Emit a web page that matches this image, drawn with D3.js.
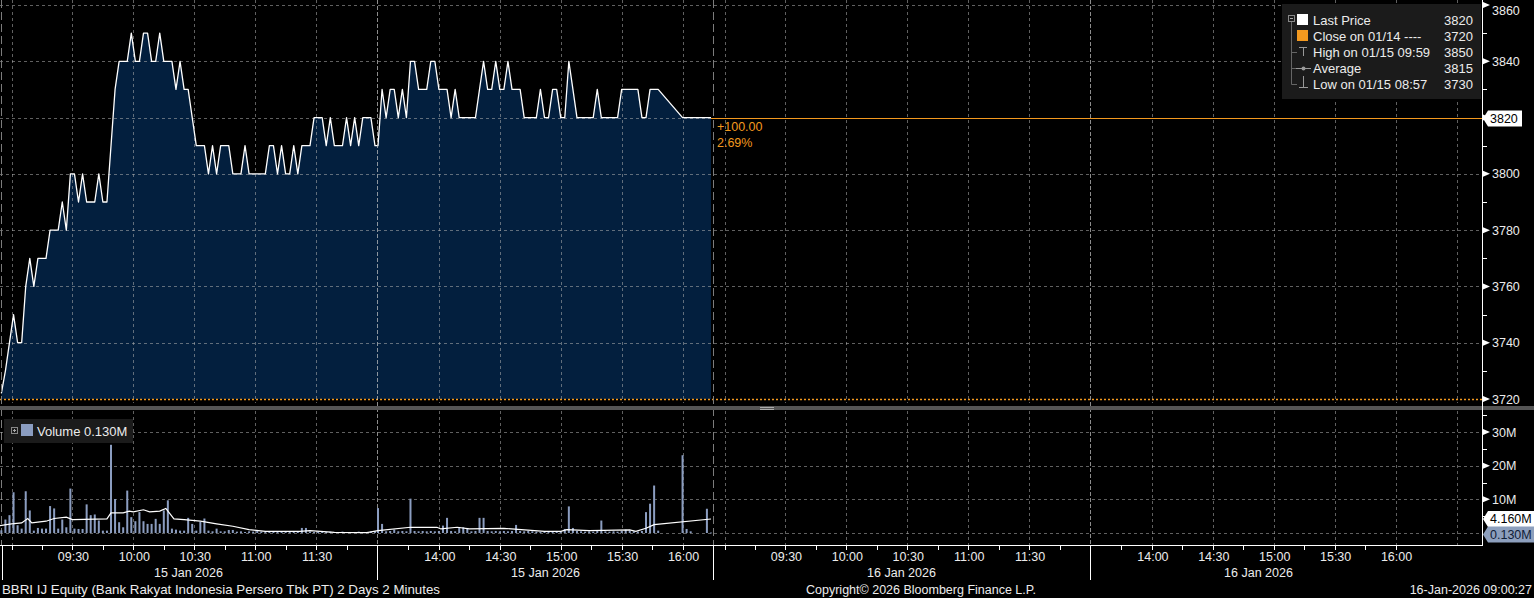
<!DOCTYPE html>
<html><head><meta charset="utf-8">
<script src="https://cdn.jsdelivr.net/npm/d3@7"></script>
<style>
html,body{margin:0;padding:0;background:#000;overflow:hidden;}
svg{display:block;font-family:"Liberation Sans",Arial,Helvetica,sans-serif;}
</style></head><body>
<svg id="chart" width="1534" height="598"></svg>
<script>
// ---------------- DATA ----------------
const day1 = "2026-01-15", day2 = "2026-01-16";
const stepMinutes = 2;
const session1Start = "08:55";
const session1Price = [
 3722,3730,3740,3750,3740,3740,3760,3770,3760,3770,
 3770,3770,3780,3780,3780,3790,3780,3800,3800,3790,
 3800,3790,3790,3790,3800,3790,3790,3810,3830,3840,
 3840,3840,3850,3840,3840,3850,3850,3840,3840,3850,
 3840,3840,3840,3830,3840,3830,3830,3820,3810,3810,
 3810,3800,3810,3800,3810,3810,3810,3800,3800,3800,
 3810,3800,3800,3800,3800,3800,3810,3810,3800,3810,
 3800,3800,3810,3800,3810,3810,3810,3820,3820,3820,
 3810,3820,3810,3810,3810,3820,3810,3820,3810,3820,
 3820,3820,3810];
const session1Volume = [ // millions
 0.8,4.0,5.3,12.1,2.3,1.3,12.4,6.7,0.7,1.5,
 1.3,1.3,8.0,7.3,1.3,4.0,1.7,13.2,1.3,1.2,
 1.2,8.5,5.3,5.5,3.7,0.7,0.7,26.2,10.1,3.2,
 1.7,12.6,4.7,3.5,6.2,3.5,2.7,2.7,4.2,2.7,
 6.7,9.7,1.3,1.0,0.7,0.7,4.5,2.7,0.7,3.3,
 4.3,0.7,0.5,1.3,0.5,0.5,0.9,0.9,0.4,0.5,
 0.3,0.5,0.4,0.6,0.4,0.3,0.5,0.4,0.3,0.5,
 0.4,0.3,0.4,0.5,1.5,1.5,0.4,0.3,0.4,0.3,
 0.3,0.4,0.3,0.3,0.4,0.3,0.3,0.3,0.4,0.3,
 0.3,0.4,0.5];
const session2Start = "13:30";
const session2Price = [
 3810,3830,3820,3830,3830,3820,3830,3820,3840,3840,
 3830,3830,3830,3840,3840,3830,3830,3830,3820,3830,
 3820,3820,3820,3820,3820,3830,3840,3830,3830,3840,
 3830,3830,3840,3830,3830,3830,3820,3820,3820,3820,
 3830,3820,3820,3830,3830,3820,3820,3840,3830,3820,
 3820,3820,3820,3820,3830,3820,3820,3820,3820,3820,
 3830,3830,3830,3830,3830,3820,3820,3830,3830,3830,
 null,null,null,null,null,3820,3820,3820,3820,3820,
 3820,3820,3820];
const session2Volume = [
 7.4,2.7,0.5,0.6,1.0,0.5,0.6,0.5,10.2,0.6,
 0.5,0.6,0.5,0.6,0.5,0.6,2.2,4.5,0.6,0.5,
 1.7,1.7,1.5,0.5,0.6,4.5,4.5,0.6,0.5,0.6,
 0.5,0.6,0.5,0.6,2.4,0.6,0.5,0.6,0.5,0.4,
 0.3,0.3,0.3,0.4,0.3,0.5,1.2,7.9,1.5,0.6,
 0.5,0.4,0.5,0.4,0.6,3.7,0.5,0.4,0.5,0.4,
 0.6,1.0,0.7,0.5,0.4,0.6,6.2,8.7,14.1,0.7,
 null,null,null,null,null,23.1,1.2,0.5,0,0,
 0,7.2,0.13];
const volAvgTimes = ["08:54:20","09:00","09:05","09:08","09:10","09:17","09:21","09:27","09:30","09:47","09:49","09:55","09:58","10:00","10:05","10:08","10:13","10:16","10:20","10:25","10:33","10:41","10:49","10:57","11:05","11:22","11:27","11:39","11:55",
 "13:30","13:46","13:59","14:01","14:09","14:15","14:32","14:52","15:00","15:03","15:14","15:34","15:37","15:42","15:46","16:14"];
const volAvgValues = [2.2,2.7,3.0,4.3,3.0,3.5,4.3,4.7,4.0,4.2,6.0,6.0,6.5,6.3,6.9,6.3,6.5,7.3,4.2,4.0,3.5,2.7,2.0,1.0,0.5,0.5,0.7,0.2,0.1,
 0.7,1.7,1.7,1.2,1.7,1.2,1.4,0.5,0.5,1.0,0.7,0.9,0.5,1.4,2.5,4.16];
const priceTicks = [3720,3740,3760,3780,3800,3820,3840,3860];
const priceMinorTicks = [3730,3750,3770,3790,3810,3830,3850];
const volumeTicks = [10,20,30];
const volumeMinorTicks = [5,15,25,35];
const gridTimes = ["09:00","09:30","10:00","10:30","11:00","11:30","14:00","14:30","15:00","15:30","16:00"];
const timeLabels = ["09:30","10:00","10:30","11:00","11:30","14:00","14:30","15:00","15:30","16:00"];
const dateLabels = {"2026-01-15":"15 Jan 2026","2026-01-16":"16 Jan 2026"};
const prevClose = 3720, lastPrice = 3820;
const changeLabels = ["+100.00","2.69%"];
const lastVolume = "0.130M", lastVolAvg = "4.160M";
const legendLabels = ["Last Price","Close on 01/14 ----","High on 01/15 09:59","Average","Low on 01/15 08:57"];
const legendValues = ["3820","3720","3850","3815","3730"];
const footerLeft = "BBRI IJ Equity (Bank Rakyat Indonesia Persero Tbk PT) 2 Days 2 Minutes";
const footerMid = "Copyright\u00a9 2026 Bloomberg Finance L.P.";
const footerRight = "16-Jan-2026 09:00:27";

// ---------------- HELPERS ----------------
function at(day, hm){ const [Y,M,D]=day.split("-").map(Number); const p=hm.split(":").map(Number); return new Date(Y,M-1,D,p[0],p[1],p[2]||0); }
function series(day,start,vals){ const t0=at(day,start); return vals.map((v,i)=>({t:d3.timeMinute.offset(t0,i*stepMinutes),v})); }

const svg = d3.select("#chart");
const W=1534, H=598, axisX=1482;
const ORANGE="#f3991f", TXT="#ececec", GRID="rgba(175,175,175,0.55)";

const x = d3.scaleTime()
 .domain([at(day1,"08:54:20"),at(day1,"12:00"),at(day1,"13:30"),at(day1,"16:15"),
          at(day2,"08:54:20"),at(day2,"12:00"),at(day2,"13:30"),at(day2,"16:15"),at(day2,"16:42:30")])
 .range([0,377,378,713,713,1090,1091,1426,axisX]);
const y = d3.scaleLinear().domain([3720,3860]).range([399,5]);
const yv = d3.scaleLinear().domain([0,30]).range([533,432]);

const priceData = series(day1,session1Start,session1Price).concat(series(day1,session2Start,session2Price)).filter(d=>d.v!=null);
const volData = series(day1,session1Start,session1Volume).concat(series(day1,session2Start,session2Volume)).filter(d=>d.v!=null);
const avgData = volAvgTimes.map((t,i)=>({t:at(day1,t),v:volAvgValues[i]}));

svg.append("rect").attr("width",W).attr("height",H).attr("fill","#000");

// ---------------- PRICE PANEL ----------------
const gp = svg.append("g");
gp.append("path").datum(priceData)
 .attr("d",d3.area().x(d=>x(d.t)).y0(y(prevClose)).y1(d=>y(d.v)))
 .attr("fill","#031f3e");

// grid
const days=[day1,day2];
const gridX = [];
days.forEach(d=>gridTimes.forEach(t=>gridX.push(x(at(d,t)))));
gridX.push(x(at(day2,"16:30")));
gp.selectAll(".vg").data(gridX).join("line")
 .attr("x1",d=>Math.round(d)+0.5).attr("x2",d=>Math.round(d)+0.5).attr("y1",0).attr("y2",403)
 .attr("stroke",GRID).attr("stroke-dasharray","3,3");
gp.selectAll(".hg").data(priceTicks.filter(t=>t!==prevClose)).join("line")
 .attr("x1",0).attr("x2",axisX).attr("y1",d=>Math.round(y(d))+0.5).attr("y2",d=>Math.round(y(d))+0.5)
 .attr("stroke",GRID).attr("stroke-dasharray","3,3");

// session / day separators (full height)
const sepSession=[x(at(day1,"12:00")),x(at(day2,"12:00"))];
const sepDay=[1,x(at(day1,"16:15"))];
svg.selectAll(".ss").data(sepSession).join("line")
 .attr("x1",d=>Math.round(d)+0.5).attr("x2",d=>Math.round(d)+0.5).attr("y1",0).attr("y2",545)
 .attr("stroke","rgba(200,200,200,0.7)").attr("stroke-dasharray","4,2");
svg.selectAll(".sd").data(sepDay).join("line")
 .attr("x1",d=>Math.round(d)+0.5).attr("x2",d=>Math.round(d)+0.5).attr("y1",0).attr("y2",545)
 .attr("stroke","#7c7c7c").attr("stroke-dasharray","8,4");

// prev close dotted
gp.append("line").attr("x1",0).attr("x2",axisX).attr("y1",y(prevClose)+0.5).attr("y2",y(prevClose)+0.5)
 .attr("stroke",ORANGE).attr("stroke-width",1.5).attr("stroke-dasharray","2,2");

// price line
gp.append("path").datum(priceData)
 .attr("d",d3.line().x(d=>x(d.t)).y(d=>y(d.v)))
 .attr("fill","none").attr("stroke","#fff").attr("stroke-width",1.3).attr("stroke-linejoin","round");

// last price line
const lastPt = priceData[priceData.length-1];
gp.append("line").attr("x1",x(lastPt.t)).attr("x2",axisX).attr("y1",Math.round(y(lastPrice))+0.5).attr("y2",Math.round(y(lastPrice))+0.5)
 .attr("stroke",ORANGE).attr("stroke-width",1);
gp.selectAll(".chg").data(changeLabels).join("text")
 .attr("x",x(lastPt.t)+6).attr("y",(d,i)=>y(lastPrice)+13+i*16)
 .attr("fill",ORANGE).attr("font-size",12.5).text(d=>d);

// ---------------- PANEL SEPARATOR ----------------
svg.append("rect").attr("x",0).attr("y",406).attr("width",W).attr("height",4).attr("fill","#555");
[407,409].forEach(yy=>svg.append("line").attr("x1",760).attr("x2",774).attr("y1",yy+0.5).attr("y2",yy+0.5).attr("stroke","#aaa"));

// ---------------- VOLUME PANEL ----------------
const gv = svg.append("g");
gv.selectAll(".vvg").data(gridX).join("line")
 .attr("x1",d=>Math.round(d)+0.5).attr("x2",d=>Math.round(d)+0.5).attr("y1",411).attr("y2",545)
 .attr("stroke",GRID).attr("stroke-dasharray","3,3");
gv.selectAll(".vhg").data([0].concat(volumeTicks)).join("line")
 .attr("x1",0).attr("x2",axisX).attr("y1",d=>Math.round(yv(d))+0.5).attr("y2",d=>Math.round(yv(d))+0.5)
 .attr("stroke",GRID).attr("stroke-dasharray","3,3");
gv.selectAll(".bar").data(volData.filter(d=>d.v>0)).join("rect")
 .attr("x",d=>x(d.t)-1).attr("width",2)
 .attr("y",d=>yv(d.v)).attr("height",d=>Math.max(0.8,yv(0)-yv(d.v)))
 .attr("fill","#8b9dc0");
gv.append("path").datum(avgData)
 .attr("d",d3.line().x(d=>x(d.t)).y(d=>yv(d.v)))
 .attr("fill","none").attr("stroke","#fff").attr("stroke-width",1.2);

// ---------------- RIGHT AXIS ----------------
const ga = svg.append("g").attr("font-size",12.5).attr("fill",TXT);
ga.append("line").attr("x1",axisX+0.5).attr("x2",axisX+0.5).attr("y1",0).attr("y2",546).attr("stroke","#fff");
function marker(yy){ ga.append("path").attr("d",`M${axisX+1},${yy-3}L${axisX+8},${yy}L${axisX+1},${yy+3}Z`).attr("fill","#fff"); }
function minor(yy){ ga.append("line").attr("x1",axisX).attr("x2",axisX+5).attr("y1",Math.round(yy)+0.5).attr("y2",Math.round(yy)+0.5).attr("stroke","#fff"); }
priceTicks.forEach(t=>{ marker(y(t)); ga.append("text").attr("x",axisX+10).attr("y",Math.max(y(t),10)).attr("dy","0.36em").text(t); });
priceMinorTicks.forEach(t=>minor(y(t)));
volumeTicks.forEach(t=>{ marker(yv(t)); ga.append("text").attr("x",axisX+10).attr("y",yv(t)).attr("dy","0.36em").text(t+"M"); });
volumeMinorTicks.forEach(t=>minor(yv(t)));

function tag(yy,label,fill,txt,w){
  ga.append("path").attr("d",`M${axisX+1},${yy}L${axisX+6},${yy-8}L${axisX+6+w},${yy-8}L${axisX+6+w},${yy+8}L${axisX+6},${yy+8}Z`).attr("fill",fill);
  ga.append("text").attr("x",axisX+8).attr("y",yy).attr("dy","0.36em").attr("fill",txt).text(label);
}
tag(Math.round(y(lastPrice))+0.5,String(lastPrice),"#fff","#000",34);
tag(yv(4.16),lastVolAvg,"#fff","#000",50);
tag(yv(0.13)+2,lastVolume,"#8d9fbd","#102038",50);

// ---------------- BOTTOM AXIS ----------------
const gb = svg.append("g").attr("font-size",12.5).attr("fill",TXT);
gb.append("line").attr("x1",0).attr("x2",axisX).attr("y1",545.5).attr("y2",545.5).attr("stroke","#fff");
const sessions=[];
days.forEach(d=>{ sessions.push([at(d,"09:00"),at(d,"12:00"),d,at(d,"08:54:20")]); sessions.push([at(d,"13:45"),at(d,"16:15"),d,at(d,"13:30")]); });
sessions.forEach(([a,b,d,s])=>{
  d3.timeMinute.every(15).range(a,b).forEach(t=>{
    const xx=Math.round(x(t))+0.5;
    gb.append("line").attr("x1",xx).attr("x2",xx).attr("y1",545).attr("y2",550).attr("stroke","#fff");
  });
  gb.append("text").attr("x",(x(s)+x(b))/2).attr("y",577).attr("text-anchor","middle").text(dateLabels[d]);
});
days.forEach(d=>timeLabels.forEach(t=>{
  gb.append("text").attr("x",x(at(d,t))+1).attr("y",561).attr("text-anchor","middle").text(t);
}));
[1.5,x(at(day1,"12:00")),x(at(day1,"16:15")),x(at(day2,"12:00"))].forEach(xx=>{
  gb.append("line").attr("x1",Math.round(xx)+0.5).attr("x2",Math.round(xx)+0.5).attr("y1",545).attr("y2",580).attr("stroke","#fff");
});

// ---------------- LEGENDS ----------------
const gl = svg.append("g").attr("font-size",13).attr("fill",TXT);
gl.append("rect").attr("x",1282).attr("y",4).attr("width",199).attr("height",95).attr("fill","#1b1b1b");
gl.append("rect").attr("x",1288.5).attr("y",15.5).attr("width",6).attr("height",6).attr("fill","none").attr("stroke","#888");
gl.append("line").attr("x1",1290).attr("x2",1293).attr("y1",18.5).attr("y2",18.5).attr("stroke","#aaa");
gl.append("path").attr("d","M1291.5,22V84.5H1297M1291.5,52.5H1297M1291.5,68.5H1296").attr("fill","none").attr("stroke","#666");
gl.append("rect").attr("x",1297).attr("y",14).attr("width",11).attr("height",11).attr("fill","#fff");
gl.append("rect").attr("x",1297).attr("y",30).attr("width",11).attr("height",11).attr("fill",ORANGE);
gl.append("path").attr("d","M1299,47.5H1307M1303.5,47.5V56").attr("stroke","#999").attr("fill","none");
gl.append("path").attr("d","M1296,68.5H1311").attr("stroke","#999");
gl.append("circle").attr("cx",1303.5).attr("cy",68.5).attr("r",2).attr("fill","#999");
gl.append("path").attr("d","M1303.5,76V87.5M1299,87.5H1308").attr("stroke","#999").attr("fill","none");
legendLabels.forEach((l,i)=>{
  gl.append("text").attr("x",1313).attr("y",25+i*16).text(l);
  gl.append("text").attr("x",1473).attr("y",25+i*16).attr("text-anchor","end").text(legendValues[i]);
});
gl.append("rect").attr("x",4).attr("y",419).attr("width",129).attr("height",24).attr("fill","#1b1b1b");
gl.append("rect").attr("x",11.5).attr("y",427.5).attr("width",6).attr("height",6).attr("fill","none").attr("stroke","#888");
gl.append("path").attr("d","M13,430.5H16M14.5,429V432").attr("stroke","#aaa");
gl.append("rect").attr("x",21).attr("y",424).attr("width",12).attr("height",12).attr("fill","#8b9dc0");
gl.append("text").attr("x",37).attr("y",436).text("Volume "+lastVolume);

// ---------------- FOOTER ----------------
const gf = svg.append("g").attr("font-size",12.5).attr("fill",TXT);
gf.append("text").attr("x",2).attr("y",594).attr("font-size",13.3).text(footerLeft);
gf.append("text").attr("x",921).attr("y",594).attr("text-anchor","middle").text(footerMid);
gf.append("text").attr("x",1532).attr("y",594).attr("text-anchor","end").text(footerRight);
</script></body></html>
